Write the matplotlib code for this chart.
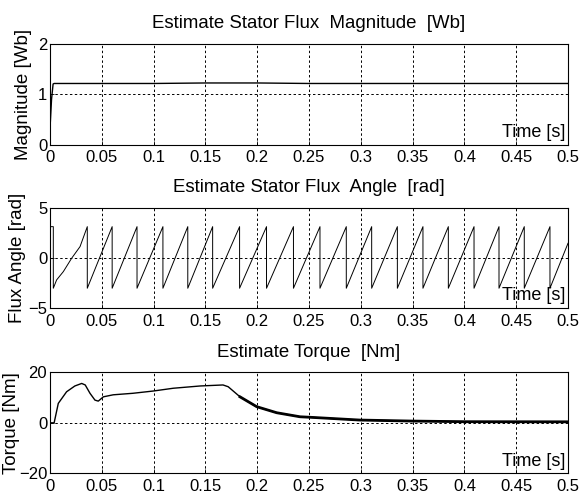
import numpy as np
import matplotlib
matplotlib.use("Agg")
import matplotlib.pyplot as plt

plt.rcParams["font.family"] = ["Liberation Sans", "DejaVu Sans"]

# Flux magnitude [Wb]
mag_t = [0.0, 0.0015, 0.003, 0.004, 0.05, 0.1, 0.15, 0.2, 0.25, 0.3, 0.35, 0.4, 0.45, 0.5]
mag_v = [0.32, 0.9, 1.2, 1.21, 1.21, 1.21, 1.22, 1.22, 1.21, 1.21, 1.21, 1.21, 1.21, 1.21]

# Flux angle [rad]: start, first ramp, then wrap times of the sawtooth
angle_start_t = [0.0, 0.0032]
angle_start_v = [3.11, 3.11]
first_ramp_t = [0.0032, 0.0064, 0.0129, 0.0209, 0.029, 0.036]
first_ramp_v = [-3.03, -2.2, -1.37, -0.04, 1.12, 3.11]
wrap_t = [0.036, 0.060, 0.084, 0.109, 0.133, 0.157, 0.183, 0.209, 0.235,
          0.2606, 0.286, 0.3105, 0.3353, 0.360, 0.3845, 0.4093, 0.4334,
          0.4578, 0.4826]
angle_top = 3.11
angle_bottom = -3.03
angle_end_v = 1.45

# Torque [Nm]
torque_t = [0.0, 0.004, 0.008, 0.016, 0.024, 0.0306, 0.034, 0.0386, 0.0434,
            0.0466, 0.0515, 0.061, 0.080, 0.0997, 0.119, 0.145, 0.167, 0.172,
            0.1834, 0.1995, 0.2188, 0.2413, 0.251, 0.299, 0.349, 0.40, 0.5]
torque_v = [0.0, 0.0, 7.7, 12.3, 14.6, 15.6, 15.0, 11.7, 9.0, 8.6, 10.3, 11.1,
            11.7, 12.6, 13.7, 14.6, 15.0, 14.3, 10.3, 6.4, 4.0, 2.4, 2.2, 1.1,
            0.7, 0.45, 0.4]

# build sawtooth from wrap times
ang_t = list(angle_start_t) + list(first_ramp_t)
ang_v = list(angle_start_v) + list(first_ramp_v)
for i, tw in enumerate(wrap_t):
    ang_t.append(tw)
    ang_v.append(angle_bottom)
    if i + 1 < len(wrap_t):
        ang_t.append(wrap_t[i + 1])
        ang_v.append(angle_top)
ang_t.append(0.5)
ang_v.append(angle_end_v)

fig = plt.figure(figsize=(5.8, 4.95), dpi=100)
ax1 = fig.add_axes([0.0862, 0.7077, 0.8931, 0.2044])
ax2 = fig.add_axes([0.0862, 0.3778, 0.8931, 0.2026])
ax3 = fig.add_axes([0.0862, 0.0438, 0.8931, 0.2040])

xt = np.round(np.arange(0, 0.501, 0.05), 2)
xlabels = ["0"] + [("%g" % v) for v in xt[1:]]


def style(ax, yticks, title, ylabel, label_x):
    ax.set_xlim(0, 0.5)
    ax.set_ylim(yticks[0], yticks[-1])
    ax.set_xticks(xt)
    ax.set_xticklabels(xlabels)
    ax.set_yticks(yticks)
    ax.tick_params(direction="in", length=3, labelsize=12, width=0.6)
    ax.tick_params(axis="x", pad=4)
    ax.tick_params(axis="y", pad=2)
    ax.grid(True, color="black", linestyle=(0, (2.5, 2.5)), linewidth=0.7)
    for s in ax.spines.values():
        s.set_linewidth(0.8)
    ax.set_title(title, fontsize=13.4, pad=11)
    ax.set_ylabel(ylabel, fontsize=13.5)
    ax.yaxis.set_label_coords(label_x, 0.5)
    ax.text(0.995, 0.035, "Time [s]", transform=ax.transAxes, ha="right",
            va="bottom", fontsize=13)


ax1.plot(mag_t, mag_v, color="black", linewidth=1.0)
style(ax1, [0, 1, 2], "Estimate Stator Flux  Magnitude  [Wb]", "Magnitude [Wb]", -0.034)

ax2.plot(ang_t, ang_v, color="black", linewidth=0.7)
style(ax2, [-5, 0, 5], "Estimate Stator Flux  Angle  [rad]", "Flux Angle [rad]", -0.046)

ax3.plot(torque_t, torque_v, color="black", linewidth=1.0)
thick = [i for i, t in enumerate(torque_t) if t >= 0.18]
ax3.plot([torque_t[i] for i in thick], [torque_v[i] for i in thick],
         color="black", linewidth=2.0)
style(ax3, [-20, 0, 20], "Estimate Torque  [Nm]", "Torque [Nm]", -0.058)

fig.savefig("out.png", dpi=100)
